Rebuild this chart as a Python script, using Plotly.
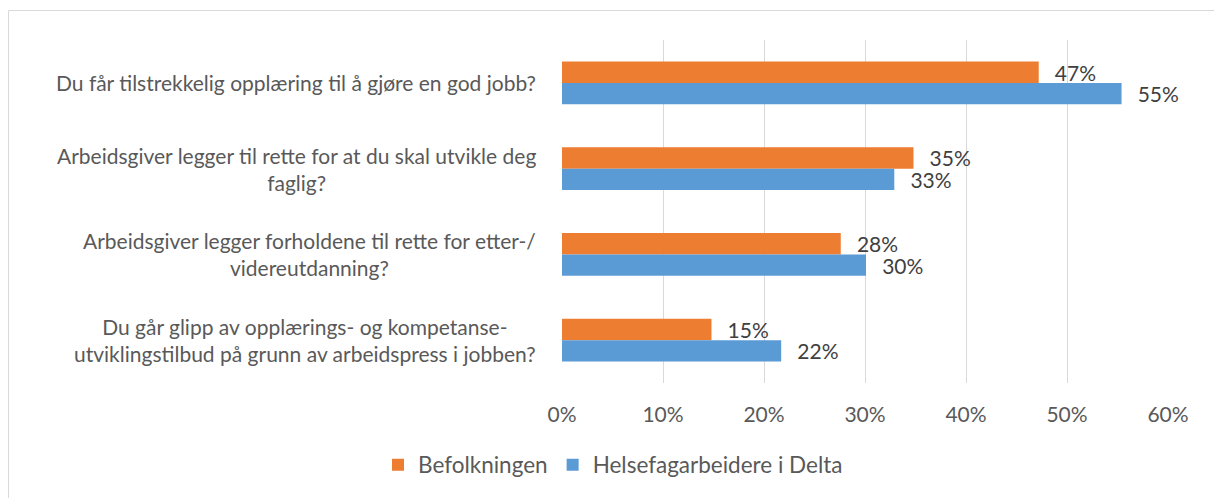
import plotly.graph_objects as go

categories = [
    "Du får tilstrekkelig opplæring til å gjøre en god jobb?",
    "Arbeidsgiver legger til rette for at du skal utvikle deg<br>faglig?",
    "Arbeidsgiver legger forholdene til rette for etter-/<br>videreutdanning?",
    "Du går glipp av opplærings- og kompetanse-<br>utviklingstilbud på grunn av arbeidspress i jobben?",
]
series_names = ["Befolkningen", "Helsefagarbeidere i Delta"]
befolkningen = [47.2, 34.8, 27.6, 14.8]
helsefag = [55.4, 32.9, 30.1, 21.7]
tick_vals = [0, 10, 20, 30, 40, 50, 60]
tick_text = ["0%", "10%", "20%", "30%", "40%", "50%", "60%"]

W, H = 1214, 498
L, R, T, B = 562, 46, 40, 115
FONT = "Lato"
FS = 21
TXT = "#595959"

fig = go.Figure()
for name, vals, col in [(series_names[0], befolkningen, "#ED7D31"),
                        (series_names[1], helsefag, "#5B9BD5")]:
    fig.add_trace(go.Bar(
        y=categories, x=vals, name=name, orientation="h",
        marker=dict(color=col, line=dict(width=0)),
        text=["\u2002\u2009" + f"{round(v):.0f}%" for v in vals],
        textposition="outside", cliponaxis=False, constraintext="none",
        textfont=dict(family=FONT, size=FS, color="#404040"),
        hoverinfo="skip",
    ))

# category labels as centred annotations
for c in categories:
    fig.add_annotation(x=0, xref="paper", xshift=-24, y=c, yref="y",
                       text=c, showarrow=False, xanchor="right", align="center",
                       font=dict(family=FONT, size=FS, color=TXT))

# figure border (top and left visible)
px = lambda x: (x - L) / (W - L - R)
py = lambda y: 1 - (y - T) / (H - T - B)
fig.add_shape(type="rect", xref="paper", yref="paper",
              x0=px(8.5), x1=px(1225), y0=py(510), y1=py(10.5),
              line=dict(color="#D9D9D9", width=1), fillcolor="rgba(0,0,0,0)", layer="below")

fig.update_layout(
    width=W, height=H, margin=dict(l=L, r=R, t=T, b=B),
    paper_bgcolor="white", plot_bgcolor="white",
    barmode="group", bargap=0.5, bargroupgap=0,
    showlegend=True,
    legend=dict(orientation="h", x=px(613), xref="paper", xanchor="center",
                y=py(465), yanchor="middle",
                font=dict(family=FONT, size=22.5, color=TXT),
                tracegroupgap=0),
    xaxis=dict(range=[0, 60], tickvals=tick_vals, ticktext=tick_text,
               showgrid=True, gridcolor="#D9D9D9", gridwidth=1.3,
               zeroline=False, showline=False, ticks="",
               ticklabelstandoff=17,
               tickfont=dict(family=FONT, size=FS, color=TXT)),
    yaxis=dict(autorange="reversed", showticklabels=False, showgrid=False,
               zeroline=False, showline=False, ticks=""),
    font=dict(family=FONT),
)

fig.write_html("out.html", post_script="document.body.style.margin='0';",
               config={"displayModeBar": False})
